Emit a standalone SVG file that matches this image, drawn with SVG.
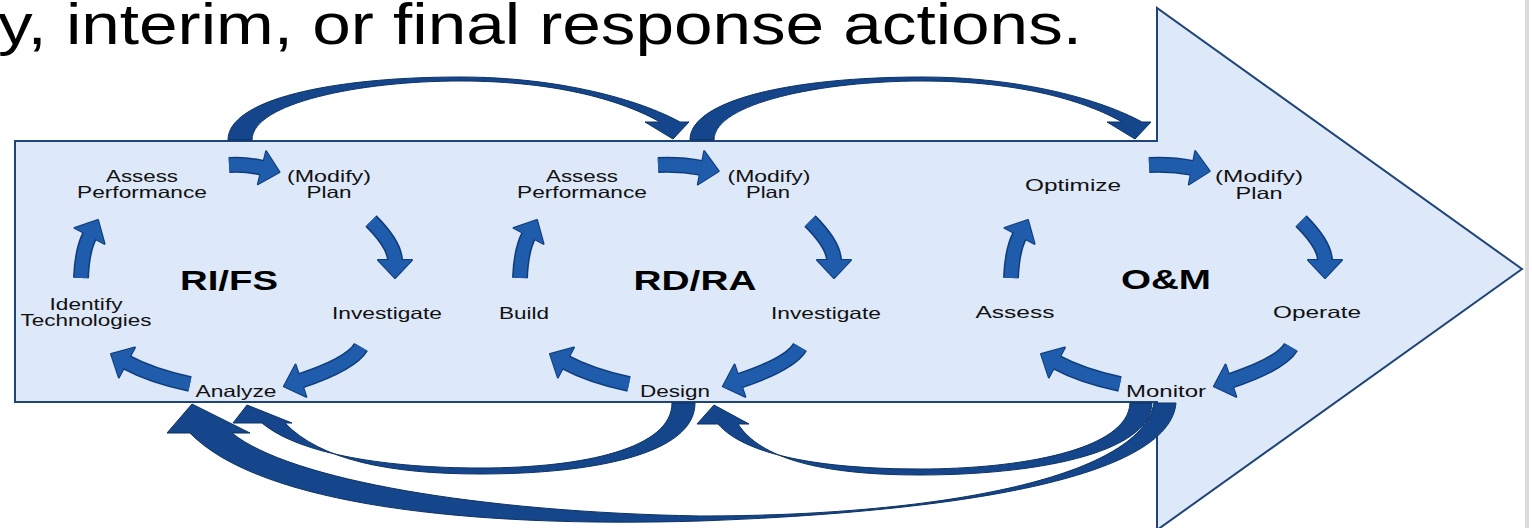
<svg xmlns="http://www.w3.org/2000/svg" xmlns:xlink="http://www.w3.org/1999/xlink" width="1532" height="528" viewBox="0 0 1532 528">
<defs>
<style>
.lbl{font-family:"Liberation Sans",Arial,sans-serif;font-size:16.5px;fill:#111;text-anchor:middle}
.ctr{font-family:"Liberation Sans",Arial,sans-serif;font-weight:bold;font-size:28px;fill:#000;text-anchor:middle}
.ttl{font-family:"Liberation Sans",Arial,sans-serif;font-size:58px;fill:#000}
.cyc{fill:none}
.under{stroke:#0f3c7a;stroke-width:16;marker-end:url(#headO)}
.over{stroke:#1f5cab;stroke-width:13;marker-end:url(#head)}
.big{fill:#15458a;stroke:#0d3364;stroke-width:1}
</style>
<marker id="head" markerUnits="userSpaceOnUse" markerWidth="18" markerHeight="34" viewBox="0 0 18 34" refX="1" refY="17" orient="auto" overflow="visible">
<path d="M0,0 L18,17 L0,34 Z" fill="#1f5cab"/>
</marker>
<marker id="headO" markerUnits="userSpaceOnUse" markerWidth="18" markerHeight="34" viewBox="0 0 18 34" refX="1" refY="17" orient="auto" overflow="visible">
<path d="M0,0 L18,17 L0,34 Z" fill="#0f3c7a" stroke="#0f3c7a" stroke-width="2" stroke-linejoin="round"/>
</marker>
<g id="cycArrows">
<path class="cyc" d="M371,221 Q395,245 395,261"/>
<path class="cyc" d="M361,347 Q351,364 300,381"/>
<path class="cyc" d="M190,384 Q152,376 126,362"/>
<path class="cyc" d="M81,278 Q82,250 90,235"/>
</g>
<path id="topArc" d="M228,140 C228,100 330,77 460,77 C560,77 640,100 680,122 L689,122 L673,139 L645,122 L660,122 C625,102 560,81 460,81 C360,81 252,103 252,140 Z"/>
</defs>

<rect x="1525" y="0" width="4" height="528" fill="#dcdcdc"/>

<g id="body">
<polygon points="15,141 1157,141 1157,8 1522,269 1157,530 1157,402 15,402" fill="#dde8f8" stroke="#1f4576" stroke-width="2"/>
</g>

<g id="title">
<text class="ttl" x="-2" y="44" textLength="1084" lengthAdjust="spacingAndGlyphs">y, interim, or final response actions.</text>
</g>

<g id="connectors">
<use href="#topArc" class="big"/>
<use href="#topArc" class="big" transform="translate(462,0)"/>
<path class="big" d="M1176,403 C1170,470 1000,510 700,521 C470,528 260,505 190,433 L167,433 L192,404 L250,433 L232,433 C290,480 480,512 700,516 C930,516 1140,480 1154,403 Z"/>
<path class="big" d="M1152,403 C1150,455 1030,475 920,475 C820,475 760,458 738,424 L749,424 L714,405 L697,424 L718,424 C745,455 820,469 920,469 C1020,469 1128,450 1130,403 Z"/>
<path class="big" d="M695,403 C695,455 590,474 480,474 C390,474 320,460 285,423 L292,423 L247,405 L233,423 L262,423 C300,455 390,468 480,468 C585,468 672,448 672,403 Z"/>
<g id="cycle1-arrows">
<path class="cyc under" d="M229,165 Q247,164 263,168"/>
<path class="cyc over" d="M229,165 Q247,164 263,168"/>
<use href="#cycArrows" class="under"/>
<use href="#cycArrows" class="over"/>
</g>
<g id="cycle2-arrows" transform="translate(439,0)">
<path class="cyc under" d="M219,165 Q242,164 263,168"/>
<path class="cyc over" d="M219,165 Q242,164 263,168"/>
<use href="#cycArrows" class="under"/>
<use href="#cycArrows" class="over"/>
</g>
<g id="cycle3-arrows" transform="translate(930,0)">
<path class="cyc under" d="M219,165 Q242,164 263,168"/>
<path class="cyc over" d="M219,165 Q242,164 263,168"/>
<use href="#cycArrows" class="under"/>
<use href="#cycArrows" class="over"/>
</g>
</g>

<g id="rifs">
<text class="ctr" x="229" y="290" textLength="98" lengthAdjust="spacingAndGlyphs">RI/FS</text>
</g>
<g id="rifs-assess">
<text class="lbl" x="142" y="182" textLength="72" lengthAdjust="spacingAndGlyphs">Assess</text>
<text class="lbl" x="142" y="198" textLength="130" lengthAdjust="spacingAndGlyphs">Performance</text>
</g>
<g id="rifs-plan">
<text class="lbl" x="329" y="182" textLength="84" lengthAdjust="spacingAndGlyphs">(Modify)</text>
<text class="lbl" x="329" y="198" textLength="45" lengthAdjust="spacingAndGlyphs">Plan</text>
</g>
<g id="rifs-investigate">
<text class="lbl" x="387" y="319" textLength="110" lengthAdjust="spacingAndGlyphs">Investigate</text>
</g>
<g id="rifs-analyze">
<text class="lbl" x="236" y="397" textLength="81" lengthAdjust="spacingAndGlyphs">Analyze</text>
</g>
<g id="rifs-identify">
<text class="lbl" x="86" y="310" textLength="73" lengthAdjust="spacingAndGlyphs">Identify</text>
<text class="lbl" x="86" y="326" textLength="131" lengthAdjust="spacingAndGlyphs">Technologies</text>
</g>

<g id="rdra">
<text class="ctr" x="695" y="290" textLength="123" lengthAdjust="spacingAndGlyphs">RD/RA</text>
</g>
<g id="rdra-assess">
<text class="lbl" x="582" y="182" textLength="72" lengthAdjust="spacingAndGlyphs">Assess</text>
<text class="lbl" x="582" y="198" textLength="130" lengthAdjust="spacingAndGlyphs">Performance</text>
</g>
<g id="rdra-plan">
<text class="lbl" x="769" y="182" textLength="83" lengthAdjust="spacingAndGlyphs">(Modify)</text>
<text class="lbl" x="768" y="198" textLength="44" lengthAdjust="spacingAndGlyphs">Plan</text>
</g>
<g id="rdra-investigate">
<text class="lbl" x="826" y="319" textLength="110" lengthAdjust="spacingAndGlyphs">Investigate</text>
</g>
<g id="rdra-design">
<text class="lbl" x="675" y="397" textLength="70" lengthAdjust="spacingAndGlyphs">Design</text>
</g>
<g id="rdra-build">
<text class="lbl" x="524" y="319" textLength="50" lengthAdjust="spacingAndGlyphs">Build</text>
</g>

<g id="om">
<text class="ctr" x="1166" y="289" textLength="90" lengthAdjust="spacingAndGlyphs">O&amp;M</text>
</g>
<g id="om-optimize">
<text class="lbl" x="1073" y="191" textLength="96" lengthAdjust="spacingAndGlyphs">Optimize</text>
</g>
<g id="om-plan">
<text class="lbl" x="1259" y="182" textLength="88" lengthAdjust="spacingAndGlyphs">(Modify)</text>
<text class="lbl" x="1259" y="199" textLength="47" lengthAdjust="spacingAndGlyphs">Plan</text>
</g>
<g id="om-operate">
<text class="lbl" x="1317" y="318" textLength="88" lengthAdjust="spacingAndGlyphs">Operate</text>
</g>
<g id="om-monitor">
<text class="lbl" x="1166" y="397" textLength="80" lengthAdjust="spacingAndGlyphs">Monitor</text>
</g>
<g id="om-assess">
<text class="lbl" x="1015" y="318" textLength="79" lengthAdjust="spacingAndGlyphs">Assess</text>
</g>
</svg>
